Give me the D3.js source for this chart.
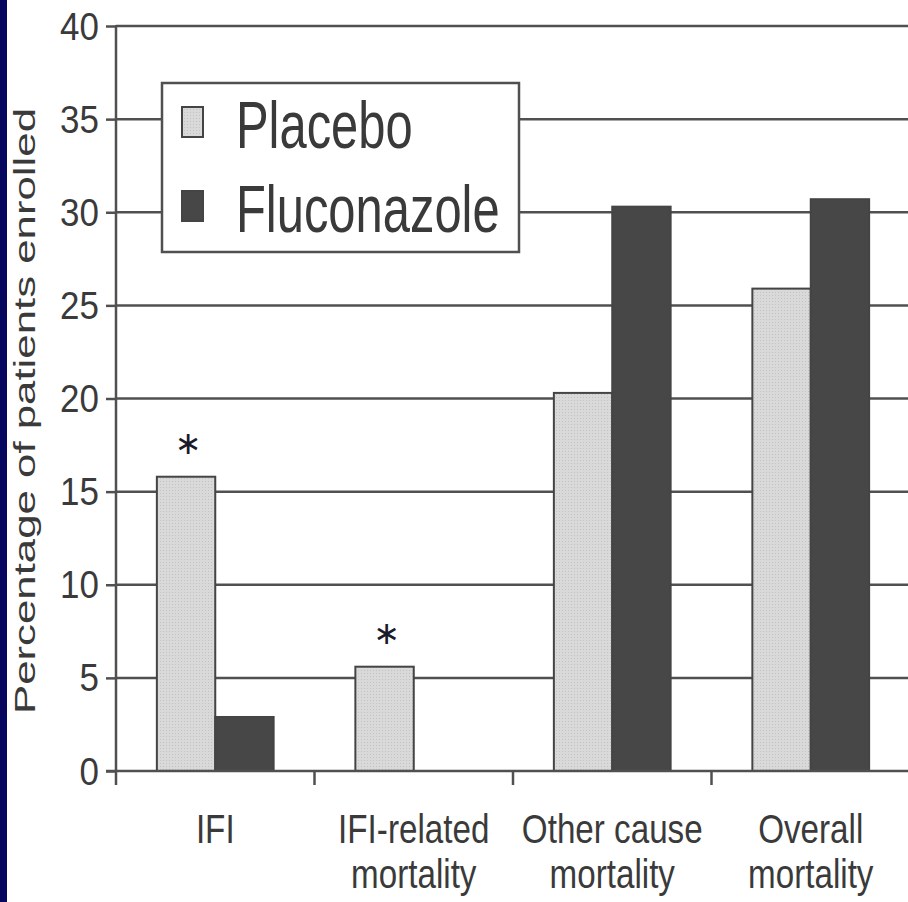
<!DOCTYPE html>
<html>
<head>
<meta charset="utf-8">
<script src="https://cdn.jsdelivr.net/npm/d3@7"></script>
<style>
  html, body { margin: 0; padding: 0; background: #fff; }
  svg { display: block; }
  text { font-family: "Liberation Sans", Arial, Helvetica, sans-serif; fill: #3a3a3a; }
</style>
</head>
<body>
<svg id="chart" width="908" height="902"></svg>
<script>
// ---- data ----
const categories = ["IFI", "IFI-related mortality", "Other cause mortality", "Overall mortality"];
const categoryLines = [["IFI"], ["IFI-related", "mortality"], ["Other cause", "mortality"], ["Overall", "mortality"]];
const seriesNames = ["Placebo", "Fluconazole"];
const placebo = [15.8, 5.6, 20.3, 25.9];
const fluconazole = [2.9, 0, 30.3, 30.7];
const yTicks = [0, 5, 10, 15, 20, 25, 30, 35, 40];
const significant = [true, true, false, false];
const yTitle = "Percentage of patients enrolled";

// ---- layout ----
const svg = d3.select("#chart");
const W = 908, H = 902;
const mLeft = 116, mRight = 910, mTop = 26, mBottom = 771;
const ink = "#505050";

svg.append("rect").attr("x", 0).attr("y", 0).attr("width", W).attr("height", H).attr("fill", "#fff");
svg.append("rect").attr("x", 0).attr("y", 0).attr("width", 7).attr("height", H).attr("fill", "#06065e");

const defs = svg.append("defs");
const pat = defs.append("pattern").attr("id", "dots").attr("width", 3).attr("height", 3)
  .attr("patternUnits", "userSpaceOnUse");
pat.append("rect").attr("width", 3).attr("height", 3).attr("fill", "#d9d9d9");
pat.append("rect").attr("x", 1).attr("y", 1).attr("width", 1).attr("height", 1).attr("fill", "#c2c2c2");

const y = d3.scaleLinear().domain([0, 40]).range([mBottom, mTop]);
const x = d3.scaleBand().domain(categories).range([mLeft, mRight]).paddingInner(0).paddingOuter(0);
const xs = d3.scaleBand().domain(seriesNames).range([0, x.bandwidth()]).paddingInner(0).paddingOuter(0.7);

// gridlines
svg.append("g").selectAll("line").data(yTicks.filter(d => d > 0)).join("line")
  .attr("x1", mLeft).attr("x2", W)
  .attr("y1", d => y(d)).attr("y2", d => y(d))
  .attr("stroke", ink).attr("stroke-width", 2.5);

// bars
const values = { "Placebo": placebo, "Fluconazole": fluconazole };
const fills = { "Placebo": "url(#dots)", "Fluconazole": "#474747" };
const barData = [];
categories.forEach((c, i) => seriesNames.forEach(s => {
  if (values[s][i] > 0) barData.push({ c, s, v: values[s][i] });
}));
svg.append("g").selectAll("rect").data(barData).join("rect")
  .attr("x", d => x(d.c) + xs(d.s))
  .attr("width", xs.bandwidth())
  .attr("y", d => y(d.v))
  .attr("height", d => y(0) - y(d.v))
  .attr("fill", d => fills[d.s])
  .attr("stroke", "#444").attr("stroke-width", 2);

// significance asterisks
svg.append("g").selectAll("text").data(categories.filter((c, i) => significant[i])).join("text")
  .attr("x", c => x(c) + xs("Placebo") + xs.bandwidth() / 2 + 2)
  .attr("y", c => y(placebo[categories.indexOf(c)]) - 23)
  .attr("text-anchor", "middle")
  .style("font-family", "DejaVu Sans")
  .style("font-size", "32px")
  .style("fill", "#1a1a2a")
  .text("∗");

// y axis
const yAxis = svg.append("g").attr("transform", `translate(${mLeft},0)`)
  .call(d3.axisLeft(y).tickValues(yTicks).tickSize(10).tickPadding(0).tickFormat(d3.format("d")));
yAxis.select(".domain").remove();
yAxis.selectAll(".tick line").attr("stroke", ink).attr("stroke-width", 2.5);
yAxis.selectAll(".tick text").attr("x", null).attr("dy", null)
  .attr("transform", "translate(-17,13) scale(0.92,1)")
  .attr("text-anchor", "end")
  .attr("fill", null)
  .style("font-size", "38px").style("fill", "#3a3a3a");
yAxis.attr("font-family", null).attr("font-size", null);
svg.append("line").attr("x1", mLeft).attr("x2", mLeft).attr("y1", mTop - 1).attr("y2", mBottom + 14)
  .attr("stroke", ink).attr("stroke-width", 2.5);

// x axis
svg.append("line").attr("x1", mLeft - 10).attr("x2", W).attr("y1", mBottom).attr("y2", mBottom)
  .attr("stroke", ink).attr("stroke-width", 2.5);
svg.append("g").selectAll("line").data(categories.slice(1)).join("line")
  .attr("x1", c => x(c)).attr("x2", c => x(c))
  .attr("y1", mBottom).attr("y2", mBottom + 14)
  .attr("stroke", ink).attr("stroke-width", 2.5);

const xl = svg.append("g").selectAll("g").data(categories).join("g")
  .attr("transform", c => `translate(${x(c) + x.bandwidth() / 2},0)`);
xl.each(function(c, i) {
  const g = d3.select(this);
  categoryLines[i].forEach((line, j) => {
    g.append("text")
      .attr("transform", `translate(0,${843 + j * 45}) scale(0.83,1)`)
      .attr("text-anchor", "middle")
      .style("font-size", "40px")
      .text(line);
  });
});

// y title
svg.append("text")
  .attr("transform", "translate(35,411) rotate(-90)")
  .attr("text-anchor", "middle")
  .attr("textLength", 606).attr("lengthAdjust", "spacingAndGlyphs")
  .style("font-size", "30px")
  .text(yTitle);

// legend
const lg = svg.append("g");
lg.append("rect").attr("x", 162).attr("y", 83).attr("width", 357).attr("height", 169)
  .attr("fill", "#fff").attr("stroke", ink).attr("stroke-width", 2.5);
const legRows = lg.selectAll("g").data(seriesNames).join("g")
  .attr("transform", (d, i) => `translate(0,${i * 84})`);
legRows.append("rect").attr("x", 182).attr("y", 107).attr("width", 21).attr("height", 30)
  .attr("fill", d => fills[d]).attr("stroke", "#444").attr("stroke-width", 2);
legRows.append("text")
  .attr("transform", "translate(236,148) scale(0.73,1)")
  .style("font-size", "67px")
  .text(d => d);
</script>
</body>
</html>
